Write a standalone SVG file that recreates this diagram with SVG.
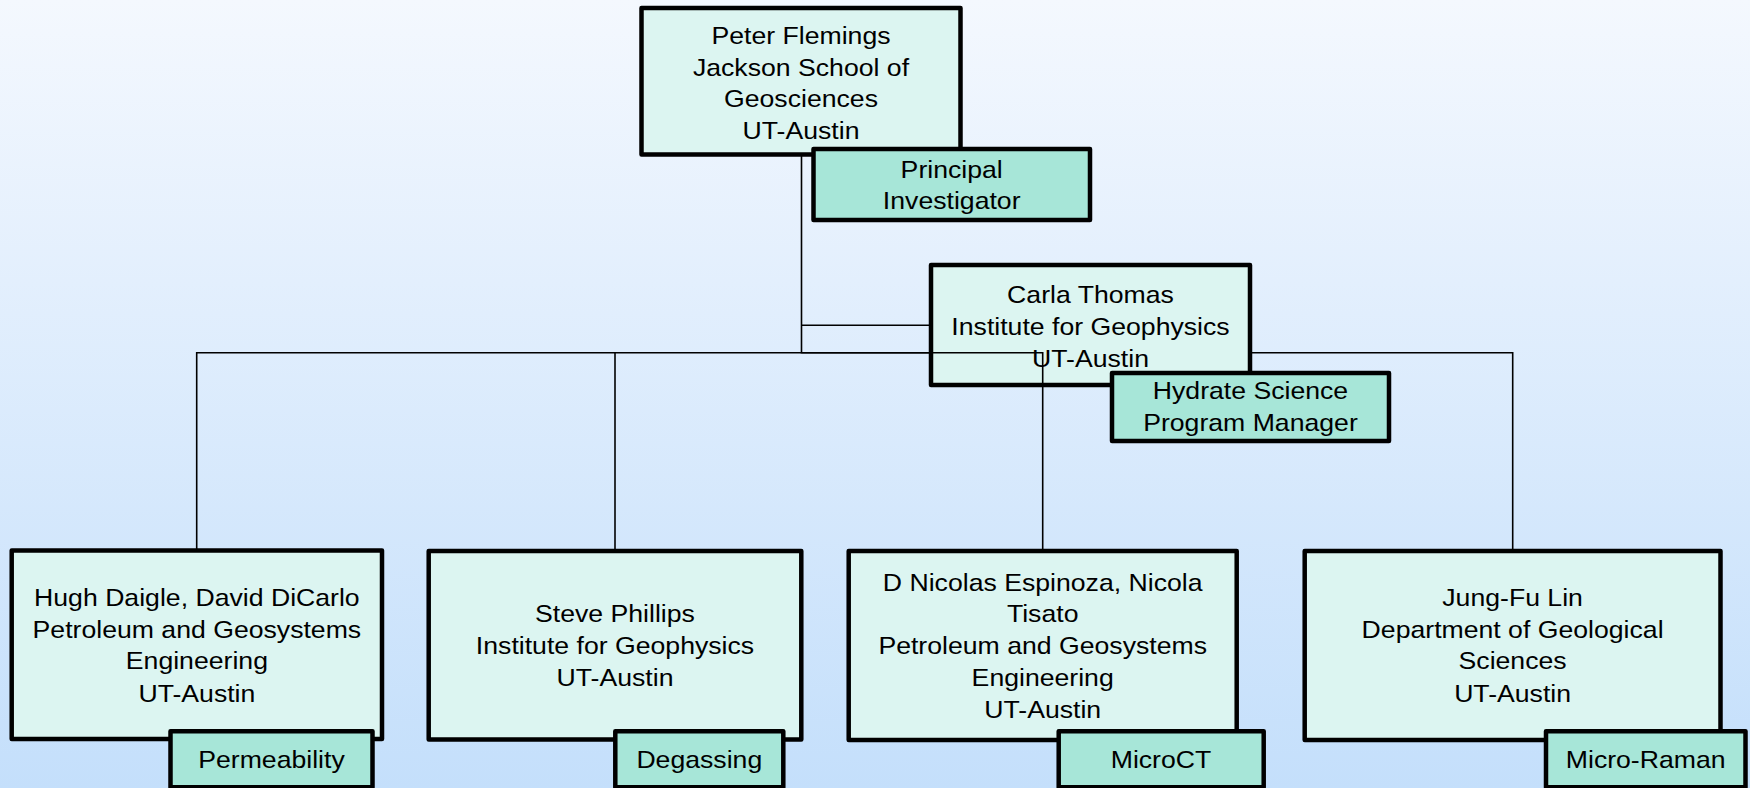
<svg xmlns="http://www.w3.org/2000/svg" width="1750" height="788" viewBox="0 0 1750 788">
<defs>
<linearGradient id="bg" x1="0" y1="0" x2="0" y2="1">
<stop offset="0" stop-color="#f4f8fe"/>
<stop offset="1" stop-color="#c4dffb"/>
</linearGradient>
</defs>
<style>
.box{fill:#dcf5f1;stroke:#000;stroke-width:4.5;stroke-linejoin:round}
.tag{fill:#a7e6d8;stroke:#000;stroke-width:4.5;stroke-linejoin:round}
.con{fill:none;stroke:#000;stroke-width:1.6}
text{font-family:"Liberation Sans",Arial,sans-serif;font-size:24px;fill:#000;text-anchor:middle}
</style>
<rect x="0" y="0" width="1750" height="788" fill="url(#bg)"/>
<g id="connectors-under">
<path class="con" d="M801.5,155 V352.7 H1512.7 V551"/>
<path class="con" d="M801.5,352.7 H196.7 V550.5"/>
<path class="con" d="M615,352.7 V551"/>
<path class="con" d="M801.5,325.3 H931"/>
</g>
<g id="node-flemings">
<rect class="box" x="641.5" y="8" width="319" height="146.5"/>
<g transform="matrix(1.11 0 0 1 -88.11 0)">
<text x="801" y="44">Peter Flemings</text>
<text x="801" y="76">Jackson School of</text>
<text x="801" y="107.5">Geosciences</text>
<text x="801" y="139.3">UT-Austin</text>
</g>
</g>
<g id="label-pi">
<rect class="tag" x="813.5" y="149" width="276.5" height="71"/>
<g transform="matrix(1.11 0 0 1 -104.69 0)">
<text x="951.7" y="178.3">Principal</text>
<text x="951.7" y="209.5">Investigator</text>
</g>
</g>
<g id="node-thomas">
<rect class="box" x="931" y="265" width="319" height="120"/>
<g transform="matrix(1.11 0 0 1 -119.96 0)">
<text x="1090.5" y="303.3">Carla Thomas</text>
<text x="1090.5" y="335">Institute for Geophysics</text>
<text x="1090.5" y="367.3">UT-Austin</text>
</g>
</g>
<g id="connectors">
<path class="con" d="M801.5,352.7 H1042.7 V551"/>
</g>
<g id="label-hsp">
<rect class="tag" x="1112" y="373" width="277" height="68"/>
<g transform="matrix(1.11 0 0 1 -137.56 0)">
<text x="1250.5" y="399">Hydrate Science</text>
<text x="1250.5" y="431">Program Manager</text>
</g>
</g>
<g id="node-daigle">
<rect class="box" x="11.7" y="550.5" width="370.3" height="188.5"/>
<g transform="matrix(1.11 0 0 1 -21.66 0)">
<text x="196.9" y="606">Hugh Daigle, David DiCarlo</text>
<text x="196.9" y="637.7">Petroleum and Geosystems</text>
<text x="196.9" y="669.3">Engineering</text>
<text x="196.9" y="701.7">UT-Austin</text>
</g>
</g>
<g id="label-permeability">
<rect class="tag" x="170.5" y="731.3" width="202" height="56"/>
<g transform="matrix(1.11 0 0 1 -29.87 0)">
<text x="271.5" y="768.3">Permeability</text>
</g>
</g>
<g id="node-phillips">
<rect class="box" x="428.7" y="551" width="372.6" height="188.5"/>
<g transform="matrix(1.11 0 0 1 -67.65 0)">
<text x="615" y="621.7">Steve Phillips</text>
<text x="615" y="654">Institute for Geophysics</text>
<text x="615" y="686.5">UT-Austin</text>
</g>
</g>
<g id="label-degassing">
<rect class="tag" x="615.3" y="731.3" width="168" height="56"/>
<g transform="matrix(1.11 0 0 1 -76.92 0)">
<text x="699.3" y="768.3">Degassing</text>
</g>
</g>
<g id="node-espinoza">
<rect class="box" x="848.7" y="551" width="388" height="189"/>
<g transform="matrix(1.11 0 0 1 -114.70 0)">
<text x="1042.7" y="590.7">D Nicolas Espinoza, Nicola</text>
<text x="1042.7" y="622.3">Tisato</text>
<text x="1042.7" y="654.2">Petroleum and Geosystems</text>
<text x="1042.7" y="686">Engineering</text>
<text x="1042.7" y="717.7">UT-Austin</text>
</g>
</g>
<g id="label-microct">
<rect class="tag" x="1058.7" y="731.3" width="205" height="56"/>
<g transform="matrix(1.11 0 0 1 -127.71 0)">
<text x="1161" y="768.3">MicroCT</text>
</g>
</g>
<g id="node-lin">
<rect class="box" x="1304.7" y="551" width="415.8" height="189"/>
<g transform="matrix(1.11 0 0 1 -166.39 0)">
<text x="1512.6" y="606">Jung-Fu Lin</text>
<text x="1512.6" y="637.7">Department of Geological</text>
<text x="1512.6" y="669.3">Sciences</text>
<text x="1512.6" y="701.7">UT-Austin</text>
</g>
</g>
<g id="label-microraman">
<rect class="tag" x="1546" y="731.3" width="199.5" height="56"/>
<g transform="matrix(1.11 0 0 1 -181.03 0)">
<text x="1645.7" y="768.3">Micro-Raman</text>
</g>
</g>
</svg>
